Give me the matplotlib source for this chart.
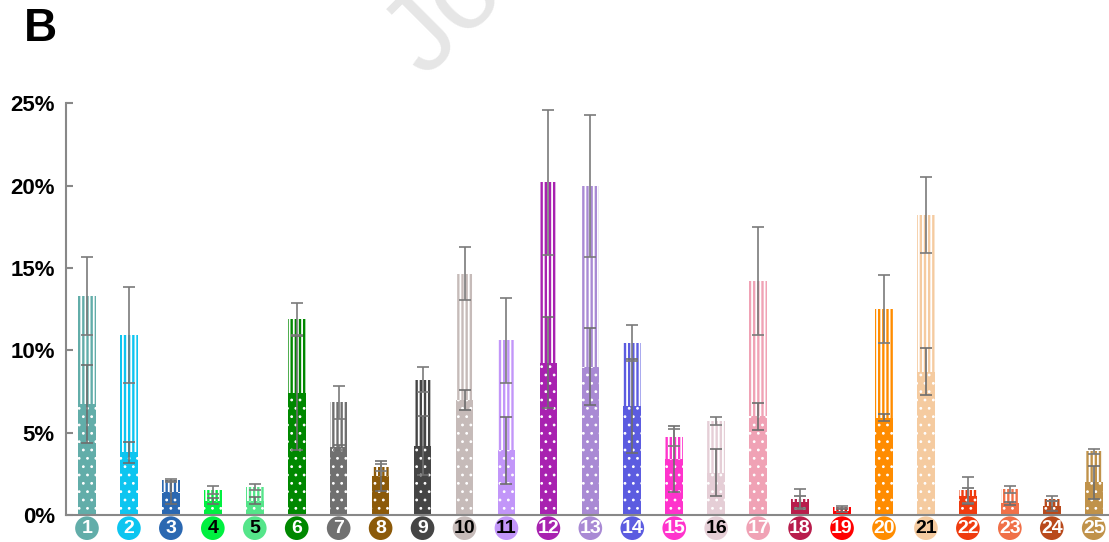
import matplotlib
matplotlib.use('Agg')
import matplotlib.pyplot as plt
import numpy as np

plt.rcParams['font.family'] = ['Liberation Sans', 'DejaVu Sans']

# ---------------------------------------------------------------
# Data (values in %)
# ---------------------------------------------------------------
LABELS = [str(i) for i in range(1, 26)]
BOTTOM = [6.75, 3.8, 1.38, 0.85, 0.87, 7.4, 4.1, 2.35, 4.22, 7.0,
          3.92, 9.25, 9.0, 6.6, 3.4, 2.57, 6.0, 0.8, 0.27, 5.92,
          8.7, 1.15, 0.7, 0.55, 2.0]
BOTTOM_ERR = [2.38, 0.65, 0.7, 0.2, 0.2, 3.45, 0.13, 0.9, 1.79, 0.62,
              2.05, 2.75, 2.35, 2.85, 2.0, 1.42, 0.81, 0.35, 0.1, 0.19,
              1.42, 0.5, 0.07, 0.3, 1.0]
TOTAL = [13.3, 10.93, 2.1, 1.52, 1.7, 11.9, 6.85, 2.9, 8.22, 14.65,
         10.6, 20.2, 19.97, 10.45, 4.72, 5.7, 14.2, 0.97, 0.5, 12.5,
         18.2, 1.5, 1.56, 1.0, 3.88]
TOTAL_ERR = [2.37, 2.93, 0.08, 0.22, 0.2, 0.95, 1.0, 0.2, 0.78, 1.6,
             2.6, 4.4, 4.33, 1.08, 0.5, 0.24, 3.28, 0.6, 0.05, 2.07,
             2.3, 0.8, 0.22, 0.17, 0.15]
COLORS = ['#62ADA9', '#0DC5F0', '#2B68B1', '#00F040', '#55E58A',
          '#008800', '#707070', '#8C5A0A', '#454545', '#C6BBB9',
          '#C296F9', '#A822B0', '#A98AD4', '#5C5CE0', '#FF33CC',
          '#E5CED6', '#F0A2B5', '#B81D4C', '#FF0000', '#FF8C00',
          '#F5CBA0', '#EF3B0E', '#F07048', '#B94A1C', '#C0924A']
DARK_TEXT = ['4', '5', '10', '11', '16', '21']

W, H = 1109, 542
fig = plt.figure(figsize=(W / 100, H / 100), dpi=100)
ax = fig.add_axes([66 / W, (H - 515) / H, (1114.7 - 66) / W, (515 - 103.3) / H])

x = np.arange(len(LABELS))
bottom = np.array(BOTTOM)
total = np.array(TOTAL)

with plt.rc_context({'hatch.linewidth': 0.8}):
    b1 = ax.bar(x, bottom, width=0.42, color=COLORS, edgecolor='white',
                linewidth=0, hatch='..', zorder=2)
with plt.rc_context({'hatch.linewidth': 1.3}):
    b2 = ax.bar(x, total - bottom, bottom=bottom, width=0.42, color=COLORS,
                edgecolor='white', linewidth=0, hatch='||||', zorder=2)
for p in b1:
    if hasattr(p, 'set_hatch_linewidth'):
        p.set_hatch_linewidth(0.8)
for p in b2:
    if hasattr(p, 'set_hatch_linewidth'):
        p.set_hatch_linewidth(1.3)

ax.errorbar(x, bottom, yerr=BOTTOM_ERR, fmt='none', ecolor='#6e6e6e',
            elinewidth=1.2, capsize=4.5, capthick=1.2, zorder=3)
ax.errorbar(x, total, yerr=TOTAL_ERR, fmt='none', ecolor='#7a7a7a',
            elinewidth=1.2, capsize=4.5, capthick=1.2, zorder=3)

ax.set_xlim(-0.5, 24.5)
ax.set_ylim(0, 25)
ax.set_yticks([0, 5, 10, 15, 20, 25])
ax.set_yticklabels(['0%', '5%', '10%', '15%', '20%', '25%'],
                   fontsize=16, fontweight='bold')
ax.tick_params(axis='y', direction='in', length=5, width=1.5,
               color='#888888', pad=8)
ax.set_xticks([])
for side in ['top', 'right']:
    ax.spines[side].set_visible(False)
for side in ['left', 'bottom']:
    ax.spines[side].set_color('#888888')
    ax.spines[side].set_linewidth(1.5)

# circled category labels
trans = ax.get_xaxis_transform()
ax.scatter(x, np.full(len(x), -0.032), s=290, c=COLORS, transform=trans,
           clip_on=False, zorder=4, linewidths=0)
for xi, lab in zip(x, LABELS):
    tc = 'black' if lab in DARK_TEXT else 'white'
    ax.text(xi, -0.033, lab, transform=trans, ha='center', va='center',
            fontsize=14, fontweight='bold', color=tc, zorder=5, clip_on=False)

fig.text(24 / W, 1 - 29 / H, 'B', fontsize=33, fontweight='bold',
         ha='left', va='center')

# faint watermark (cut by the top edge, as in the source)
fig.text(425 / W, 1 - 78 / H, 'Jo', fontsize=80,
         color='#e6e6e6', rotation=45, rotation_mode='anchor',
         ha='left', va='baseline', zorder=0)

fig.savefig('out.png', dpi=100)
